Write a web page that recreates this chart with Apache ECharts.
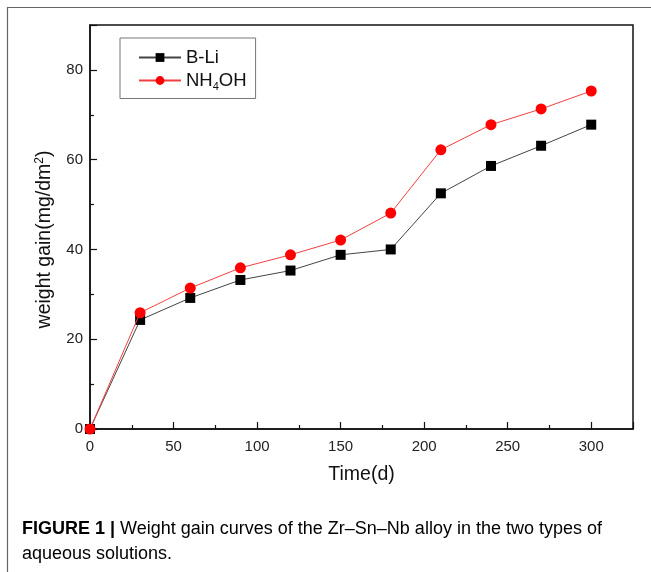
<!DOCTYPE html>
<html><head><meta charset="utf-8">
<script src="https://cdn.jsdelivr.net/npm/echarts@6/dist/echarts.min.js"></script>
<style>html,body{margin:0;padding:0;background:#fff}#c{width:651px;height:572px}</style>
</head><body><div id="c"></div>
<script>
const days = [0, 30, 60, 90, 120, 150, 180, 210, 240, 270, 300];
const bLi = [0, 24.3, 29.2, 33.2, 35.3, 38.8, 40.0, 52.5, 58.6, 63.1, 67.8];
const nh4oh = [0, 25.9, 31.4, 35.9, 38.8, 42.1, 48.1, 62.2, 67.8, 71.3, 75.3];
const seriesNames = ['B-Li', 'NH4OH'];
const xTicks = { min: 0, max: 325, interval: 50 };
const yTicks = { min: 0, max: 90, interval: 20 };

const font = 'Liberation Sans, Arial, sans-serif';
const chart = echarts.init(document.getElementById('c'), null, { renderer: 'canvas' });
const pair = (xs, ys) => xs.map((x, i) => [x, ys[i]]);
chart.setOption({
  animation: false,
  backgroundColor: '#fff',
  grid: { left: 90, right: 18, top: 25, bottom: 143, show: true, borderColor: '#111', borderWidth: 1.5, backgroundColor: 'transparent' },
  legend: {
    orient: 'vertical', left: 120, top: 38,
    borderColor: '#777', borderWidth: 1, padding: [10, 9, 6, 18],
    itemWidth: 42, itemHeight: 11, itemGap: 4,
    data: seriesNames,
    textStyle: {
      fontFamily: font, fontSize: 18.5, color: '#111',
      rich: {
        a: { fontFamily: font, fontSize: 18.5, color: '#111' },
        s: { fontFamily: font, fontSize: 11, color: '#111', verticalAlign: 'bottom', padding: [13, 0, 0, 0] }
      }
    },
    formatter: n => n === 'NH4OH' ? '{a|NH}{s|4}{a|OH}' : '{a|' + n + '}'
  },
  xAxis: {
    type: 'value', min: xTicks.min, max: xTicks.max, interval: xTicks.interval,
    name: 'Time(d)', nameLocation: 'middle', nameGap: 36,
    nameTextStyle: { fontFamily: font, fontSize: 19.5, color: '#111' },
    axisLine: { show: true, onZero: false, lineStyle: { color: '#111', width: 1.5 } },
    axisTick: { show: true, inside: true, length: 7, lineStyle: { color: '#111', width: 1.2 } },
    minorTick: { show: true, splitNumber: 2, length: 4, lineStyle: { color: '#111', width: 1.2 } },
    axisLabel: { fontFamily: font, fontSize: 15, color: '#222', margin: 10, showMaxLabel: false,
      formatter: v => (v % 50 === 0 ? String(v) : '') },
    splitLine: { show: false }
  },
  yAxis: {
    type: 'value', min: yTicks.min, max: yTicks.max, interval: yTicks.interval,
    name: '{a|weight gain(mg/dm}{s|2}{a|)}', nameLocation: 'middle', nameGap: 34,
    nameTextStyle: {
      fontFamily: font, fontSize: 19.5, color: '#111', padding: [0, 25, 0, 0],
      rich: {
        a: { fontFamily: font, fontSize: 19.5, color: '#111' },
        s: { fontFamily: font, fontSize: 12, color: '#111', verticalAlign: 'top', padding: [0, 0, 10, 0] }
      }
    },
    axisLine: { show: true, lineStyle: { color: '#111', width: 1.5 } },
    axisTick: { show: true, inside: true, length: 7, lineStyle: { color: '#111', width: 1.2 } },
    minorTick: { show: true, splitNumber: 2, length: 4, lineStyle: { color: '#111', width: 1.2 } },
    axisLabel: { fontFamily: font, fontSize: 15, color: '#222', margin: 7, showMaxLabel: false,
      formatter: v => (v % 20 === 0 ? String(v) : '') },
    splitLine: { show: false }
  },
  series: [
    { name: seriesNames[0], type: 'line', data: pair(days, bLi), symbol: 'rect', symbolSize: 10,
      itemStyle: { color: '#000' }, lineStyle: { color: '#444', width: 1 }, z: 3 },
    { name: seriesNames[1], type: 'line', data: pair(days, nh4oh), symbol: 'circle', symbolSize: 11,
      itemStyle: { color: '#f00' }, lineStyle: { color: '#f04040', width: 1 }, z: 4 }
  ],
  graphic: [
    { type: 'rect', shape: { x: 7.5, y: 7.5, width: 700, height: 700 }, style: { fill: 'none', stroke: '#666', lineWidth: 1.2 }, silent: true },
    { type: 'text', left: 22, top: 520, style: {
      text: '{b|FIGURE 1 | }{n|Weight gain curves of the Zr–Sn–Nb alloy in the two types of}\n{n|aqueous solutions.}',
      rich: {
        b: { fontFamily: 'Liberation Sans Narrow, Arial Narrow, sans-serif', fontWeight: 'bold', fontSize: 18, color: '#222', lineHeight: 25 },
        n: { fontFamily: 'Liberation Sans Narrow, Arial Narrow, sans-serif', fontSize: 18, color: '#222', lineHeight: 25 }
      } } }
  ]
});
</script></body></html>
